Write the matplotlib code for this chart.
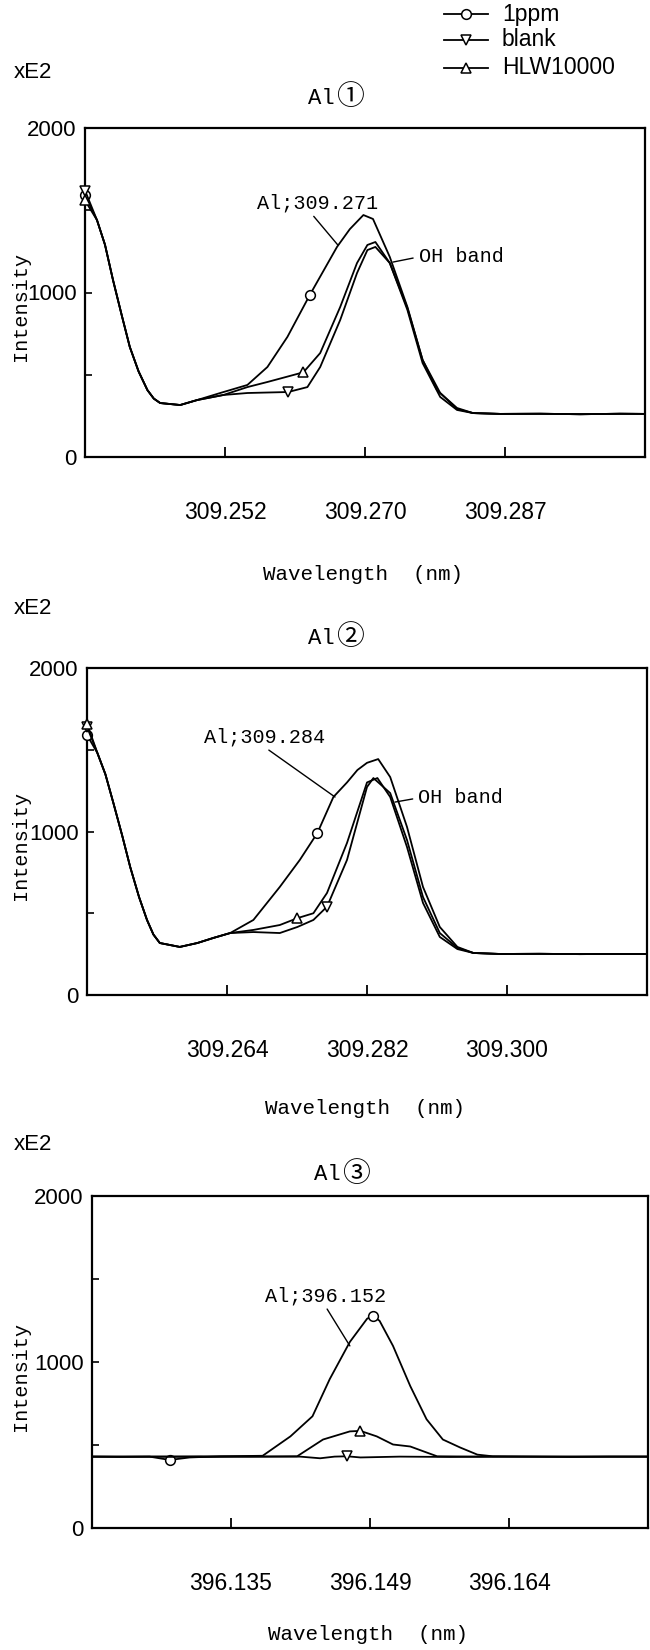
import matplotlib
matplotlib.use("Agg")
import matplotlib.pyplot as plt
from matplotlib.lines import Line2D

W, H = 650, 1650

NARROW = ["Liberation Sans", "DejaVu Sans"]
MONO = ["Liberation Mono", "DejaVu Sans Mono"]
CIRC = ["Noto Sans CJK JP", "DejaVu Sans"]

# ---------------- Al (1): 309.271 nm window ----------------
wl_ppm_1 = [309.2345, 309.2360, 309.2370, 309.2380, 309.2391, 309.2401, 309.2412, 309.2423,
            309.2431, 309.2439, 309.2464, 309.2485, 309.2514, 309.2548, 309.2573, 309.2598,
            309.2626, 309.2660, 309.2676, 309.2693, 309.2705, 309.2726, 309.2748, 309.2767,
            309.2789, 309.2810, 309.2830, 309.2864, 309.2914, 309.2964, 309.3014, 309.3045]
int_ppm_1 = [1590, 1440, 1290, 1076, 860, 669, 520, 407, 355, 328, 316, 346, 389, 438, 547, 730,
             985, 1277, 1385, 1471, 1447, 1216, 912, 590, 389, 298, 267, 262, 263, 260, 263, 262]

wl_hlw_1 = [309.2345, 309.2360, 309.2370, 309.2380, 309.2391, 309.2401, 309.2412, 309.2423,
            309.2431, 309.2439, 309.2464, 309.2485, 309.2518, 309.2548, 309.2573, 309.2599,
            309.2618, 309.2639, 309.2664, 309.2685, 309.2698, 309.2708, 309.2726, 309.2748,
            309.2767, 309.2789, 309.2810, 309.2830, 309.2864, 309.2914, 309.2964, 309.3014,
            309.3045]
int_hlw_1 = [1560, 1440, 1290, 1076, 860, 669, 520, 407, 355, 328, 316, 346, 377, 425, 456, 490,
             515, 632, 912, 1179, 1289, 1307, 1179, 894, 571, 365, 286, 267, 262, 263, 260, 263,
             262]

wl_blank_1 = [309.2345, 309.2360, 309.2370, 309.2380, 309.2391, 309.2401, 309.2412, 309.2423,
              309.2431, 309.2439, 309.2464, 309.2485, 309.2518, 309.2548, 309.2573, 309.2599,
              309.2623, 309.2639, 309.2664, 309.2685, 309.2698, 309.2708, 309.2726, 309.2748,
              309.2767, 309.2785, 309.2810, 309.2830, 309.2864, 309.2914, 309.2964, 309.3014,
              309.3045]
int_blank_1 = [1620, 1440, 1290, 1076, 860, 669, 520, 407, 355, 328, 316, 346, 377, 389, 392, 395,
               425, 547, 833, 1118, 1258, 1277, 1179, 906, 590, 407, 292, 267, 262, 263, 260, 263,
               262]

# ---------------- Al (2): 309.284 nm window ----------------
wl_ppm_2 = [309.2470, 309.2483, 309.2493, 309.2503, 309.2514, 309.2524, 309.2535, 309.2545,
            309.2553, 309.2561, 309.2586, 309.2608, 309.2628, 309.2649, 309.2678, 309.2711,
            309.2736, 309.2758, 309.2778, 309.2795, 309.2808, 309.2820, 309.2834, 309.2849,
            309.2870, 309.2890, 309.2911, 309.2933, 309.2953, 309.2986, 309.3036, 309.3086,
            309.3136, 309.3170]
int_ppm_2 = [1590, 1480, 1350, 1174, 975, 783, 600, 459, 370, 318, 294, 318, 349, 379, 459, 661,
             826, 991, 1211, 1300, 1376, 1420, 1443, 1333, 1028, 661, 416, 294, 257, 251, 252,
             250, 251, 251]

wl_hlw_2 = [309.2470, 309.2483, 309.2493, 309.2503, 309.2514, 309.2524, 309.2535, 309.2545,
            309.2553, 309.2561, 309.2586, 309.2608, 309.2628, 309.2649, 309.2678, 309.2711,
            309.2733, 309.2753, 309.2770, 309.2795, 309.2820, 309.2833, 309.2849, 309.2870,
            309.2890, 309.2911, 309.2933, 309.2953, 309.2986, 309.3036, 309.3086, 309.3136,
            309.3170]
int_hlw_2 = [1660, 1480, 1350, 1174, 975, 783, 600, 459, 370, 318, 294, 318, 349, 379, 398, 428,
             470, 500, 624, 930, 1300, 1327, 1211, 905, 563, 355, 281, 257, 251, 252, 250, 251,
             251]

wl_blank_2 = [309.2470, 309.2483, 309.2493, 309.2503, 309.2514, 309.2524, 309.2535, 309.2545,
              309.2553, 309.2561, 309.2586, 309.2608, 309.2628, 309.2649, 309.2678, 309.2711,
              309.2733, 309.2753, 309.2770, 309.2795, 309.2820, 309.2828, 309.2849, 309.2870,
              309.2890, 309.2911, 309.2933, 309.2953, 309.2986, 309.3036, 309.3086, 309.3136,
              309.3170]
int_blank_2 = [1640, 1480, 1350, 1174, 975, 783, 600, 459, 370, 318, 294, 318, 349, 379, 385, 379,
               416, 459, 540, 826, 1272, 1327, 1235, 948, 599, 379, 288, 257, 251, 252, 250, 251,
               251]

# ---------------- Al (3): 396.152 nm window ----------------
wl_ppm_3 = [396.1205, 396.1234, 396.1265, 396.1286, 396.1307, 396.1339, 396.1383, 396.1412,
            396.1435, 396.1453, 396.1474, 396.1492, 396.1498, 396.1505, 396.1519, 396.1537,
            396.1554, 396.1571, 396.1589, 396.1607, 396.1623, 396.1662, 396.1704, 396.1745,
            396.1785]
int_ppm_3 = [430, 428, 430, 410, 425, 432, 435, 552, 673, 897, 1121, 1261, 1279, 1248, 1097, 855,
             655, 533, 485, 442, 432, 430, 428, 430, 430]

wl_hlw_3 = [396.1205, 396.1265, 396.1318, 396.1370, 396.1419, 396.1446, 396.1474, 396.1485,
            396.1502, 396.1519, 396.1537, 396.1554, 396.1565, 396.1610, 396.1662, 396.1735,
            396.1785]
int_hlw_3 = [430, 430, 432, 430, 432, 533, 582, 585, 552, 503, 491, 455, 432, 430, 430, 430, 430]

wl_blank_3 = [396.1205, 396.1265, 396.1318, 396.1370, 396.1422, 396.1443, 396.1458, 396.1471,
              396.1485, 396.1526, 396.1578, 396.1630, 396.1693, 396.1785]
int_blank_3 = [430, 430, 428, 430, 430, 420, 430, 432, 425, 430, 428, 430, 430, 430]

series_labels = ["1ppm", "blank", "HLW10000"]
series_markers = ["o", "v", "^"]

tick_pos_1 = [309.2520, 309.2695, 309.2870]
tick_lab_1 = ["309.252", "309.270", "309.287"]
tick_pos_2 = [309.2645, 309.2820, 309.2995]
tick_lab_2 = ["309.264", "309.282", "309.300"]
tick_pos_3 = [396.1350, 396.1495, 396.1640]
tick_lab_3 = ["396.135", "396.149", "396.164"]

titles = ["\u2460", "\u2461", "\u2462"]
line_notes = ["Al;309.271", "Al;309.284", "Al;396.152"]

fig = plt.figure(figsize=(W / 100, H / 100), dpi=100)


def rect(left, top, right, bottom):
    return [left / W, 1 - bottom / H, (right - left) / W, (bottom - top) / H]


# overlay in pixel coordinates for the free-standing labels
ov = fig.add_axes([0, 0, 1, 1])
ov.set_xlim(0, W)
ov.set_ylim(H, 0)
ov.axis("off")

panels = [
    dict(box=(85, 128, 645, 457), xlim=(309.2345, 309.3045),
         ppm=(wl_ppm_1, int_ppm_1, [0, 16]), blank=(wl_blank_1, int_blank_1, [0, 15]),
         hlw=(wl_hlw_1, int_hlw_1, [0, 16]),
         ticks=(tick_pos_1, tick_lab_1),
         note_xy=(309.2661, 1289), note_txt=(309.2636, 1544), note_rel=(0.44, 0.0),
         oh_xy=(309.2730, 1185), oh_txt=(309.2762, 1216),
         xe2_y=72, title_x=335, title_y=98, xlab_dy=118),
    dict(box=(87, 668, 647, 995), xlim=(309.2470, 309.3170),
         ppm=(wl_ppm_2, int_ppm_2, [0, 17]), blank=(wl_blank_2, int_blank_2, [0, 18]),
         hlw=(wl_hlw_2, int_hlw_2, [0, 16]),
         ticks=(tick_pos_2, tick_lab_2),
         note_xy=(309.2780, 1211), note_txt=(309.26925, 1578), note_rel=(0.49, 0.0),
         oh_xy=(309.2855, 1180), oh_txt=(309.2884, 1205),
         xe2_y=608, title_x=335, title_y=638, xlab_dy=113),
    dict(box=(92, 1196, 648, 1528), xlim=(396.1205, 396.1785),
         ppm=(wl_ppm_3, int_ppm_3, [3, 12]), blank=(wl_blank_3, int_blank_3, [7]),
         hlw=(wl_hlw_3, int_hlw_3, [7]),
         ticks=(tick_pos_3, tick_lab_3),
         note_xy=(396.1474, 1097), note_txt=(396.1449, 1400), note_rel=(0.49, 0.0),
         oh_xy=None, oh_txt=None,
         xe2_y=1144, title_x=341, title_y=1175, xlab_dy=106),
]

for i, p in enumerate(panels):
    left, top, right, bottom = p["box"]
    ax = fig.add_axes(rect(left, top, right, bottom))
    for key, mk in zip(["ppm", "blank", "hlw"], series_markers):
        xs, ys, every = p[key]
        ax.plot(xs, ys, color="black", lw=1.3, marker=mk, markevery=every,
                markersize=7, markerfacecolor="white", markeredgecolor="black",
                markeredgewidth=1.1, clip_on=False, zorder=3)
    ax.set_xlim(*p["xlim"])
    ax.set_ylim(0, 2000)
    for s in ax.spines.values():
        s.set_linewidth(1.6)
    ax.set_yticks([0, 500, 1000, 1500, 2000])
    ax.set_yticklabels(["0", "", "1000", "", "2000"])
    ax.set_xticks(p["ticks"][0])
    ax.set_xticklabels(p["ticks"][1])
    ax.tick_params(axis="x", direction="in", length=7, width=1.3, pad=32,
                   labelsize=16.5, labelfontfamily=NARROW)
    ax.tick_params(axis="y", direction="in", length=5, width=1.2, pad=6,
                   labelsize=16, labelfontfamily=NARROW)

    ax.annotate(line_notes[i], xy=p["note_xy"], xytext=p["note_txt"],
                ha="center", va="center", fontsize=14.5, family=MONO,
                arrowprops=dict(arrowstyle="-", color="black", lw=1.0,
                                relpos=p["note_rel"], shrinkA=1, shrinkB=0))
    if p["oh_xy"] is not None:
        ax.annotate("OH band", xy=p["oh_xy"], xytext=p["oh_txt"],
                    ha="left", va="center", fontsize=14.5, family=MONO,
                    arrowprops=dict(arrowstyle="-", color="black", lw=1.0,
                                    relpos=(0.0, 0.5), shrinkA=2, shrinkB=0))

    # free labels around the panel
    ov.text(14, p["xe2_y"], "xE2", ha="left", va="center", fontsize=16, family=NARROW)
    ov.text(p["title_x"], p["title_y"], "Al", ha="right", va="center", fontsize=16,
            family=MONO)
    ov.text(p["title_x"] + 15, p["title_y"] - 1, titles[i], ha="center", va="center",
            fontsize=20, family=CIRC)
    ov.text(21, (top + bottom) / 2 + 14, "Intensity", rotation=90, ha="center",
            va="center", fontsize=14.5, family=MONO)
    ov.text((left + right) / 2 - 2, bottom + p["xlab_dy"], "Wavelength  (nm)",
            ha="center", va="center", fontsize=15, family=MONO)

# legend block, top right
leg_rows = [14, 40, 68]
for lab, mk, yy in zip(series_labels, series_markers, leg_rows):
    ov.add_line(Line2D([444, 488], [yy, yy], color="black", lw=1.3))
    ov.add_line(Line2D([466], [yy], marker=mk, markersize=7, markerfacecolor="white",
                       markeredgecolor="black", markeredgewidth=1.1, linestyle="none"))
    ov.text(502, yy, lab, ha="left", va="center", fontsize=16.5, family=NARROW)

fig.savefig("out.png", dpi=100)
